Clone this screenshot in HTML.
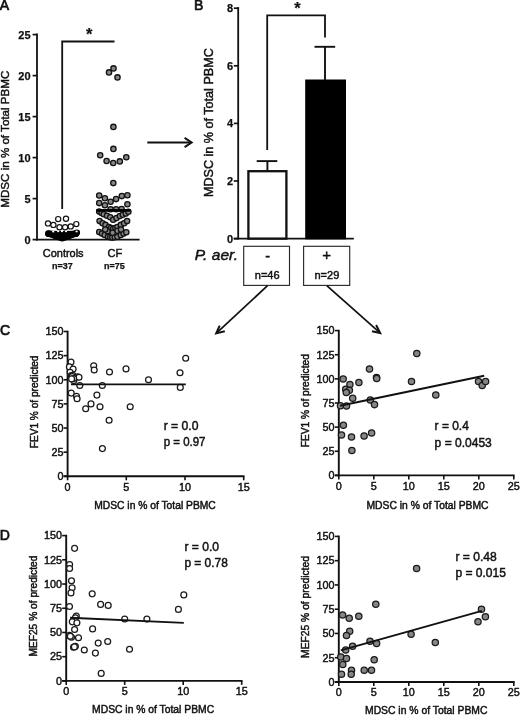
<!DOCTYPE html>
<html><head><meta charset="utf-8"><title>Figure</title>
<style>html,body{margin:0;padding:0;background:#fff;overflow:hidden}svg{display:block}text{font-family:'Liberation Sans', Arial, Helvetica, sans-serif;fill:#111}</style>
</head><body>
<svg width="520" height="715" viewBox="0 0 520 715">
<rect width="520" height="715" fill="#fff"/>
<text x="-0.3" y="10" font-size="14" text-anchor="start" font-weight="normal" font-style="normal" stroke="#111" stroke-width="0.7">A</text>
<line x1="37" y1="33.6" x2="37" y2="240.5" stroke="#111" stroke-width="1.8" stroke-linecap="butt"/>
<line x1="36.1" y1="239.6" x2="139.6" y2="239.6" stroke="#111" stroke-width="1.8" stroke-linecap="butt"/>
<line x1="32.6" y1="239.6" x2="37" y2="239.6" stroke="#111" stroke-width="1.7" stroke-linecap="butt"/>
<text x="30.6" y="243.5" font-size="11" text-anchor="end" font-weight="bold" font-style="normal" stroke="#111" stroke-width="0.25">0</text>
<line x1="32.6" y1="198.6" x2="37" y2="198.6" stroke="#111" stroke-width="1.7" stroke-linecap="butt"/>
<text x="30.6" y="202.5" font-size="11" text-anchor="end" font-weight="bold" font-style="normal" stroke="#111" stroke-width="0.25">5</text>
<line x1="32.6" y1="157.6" x2="37" y2="157.6" stroke="#111" stroke-width="1.7" stroke-linecap="butt"/>
<text x="30.6" y="161.5" font-size="11" text-anchor="end" font-weight="bold" font-style="normal" stroke="#111" stroke-width="0.25">10</text>
<line x1="32.6" y1="116.60000000000001" x2="37" y2="116.60000000000001" stroke="#111" stroke-width="1.7" stroke-linecap="butt"/>
<text x="30.6" y="120.50000000000001" font-size="11" text-anchor="end" font-weight="bold" font-style="normal" stroke="#111" stroke-width="0.25">15</text>
<line x1="32.6" y1="75.6" x2="37" y2="75.6" stroke="#111" stroke-width="1.7" stroke-linecap="butt"/>
<text x="30.6" y="79.5" font-size="11" text-anchor="end" font-weight="bold" font-style="normal" stroke="#111" stroke-width="0.25">20</text>
<line x1="32.6" y1="34.60000000000002" x2="37" y2="34.60000000000002" stroke="#111" stroke-width="1.7" stroke-linecap="butt"/>
<text x="30.6" y="38.50000000000002" font-size="11" text-anchor="end" font-weight="bold" font-style="normal" stroke="#111" stroke-width="0.25">25</text>
<text x="9.3" y="207.7" font-size="11.5" text-anchor="start" font-weight="normal" font-style="normal" stroke="#111" stroke-width="0.45" transform="rotate(-90 9.3 207.7)" textLength="137" lengthAdjust="spacingAndGlyphs">MDSC in % of Total PBMC</text>
<polyline points="62.2,209 62.2,41.5 114.5,41.5" fill="none" stroke="#111" stroke-width="1.8" stroke-linejoin="miter" stroke-linecap="butt"/>
<text x="89.2" y="40.3" font-size="16.5" text-anchor="middle" font-weight="bold" font-style="normal" stroke="#111" stroke-width="0.25">*</text>
<circle cx="58.2" cy="219.1" r="2.6" fill="#fff" stroke="#111" stroke-width="1.2"/>
<circle cx="66.0" cy="218.7" r="2.6" fill="#fff" stroke="#111" stroke-width="1.2"/>
<circle cx="48.0" cy="223.4" r="2.6" fill="#fff" stroke="#111" stroke-width="1.2"/>
<circle cx="53.4" cy="224.9" r="2.6" fill="#fff" stroke="#111" stroke-width="1.2"/>
<circle cx="59.5" cy="227.3" r="2.6" fill="#fff" stroke="#111" stroke-width="1.2"/>
<circle cx="65.1" cy="227.3" r="2.6" fill="#fff" stroke="#111" stroke-width="1.2"/>
<circle cx="70.7" cy="226.4" r="2.6" fill="#fff" stroke="#111" stroke-width="1.2"/>
<circle cx="76.3" cy="224.1" r="2.6" fill="#fff" stroke="#111" stroke-width="1.2"/>
<circle cx="48.4" cy="233.5" r="2.5" fill="#0a0a0a" stroke="#000" stroke-width="1.4"/>
<circle cx="50.7" cy="234.3" r="2.5" fill="#0a0a0a" stroke="#000" stroke-width="1.4"/>
<circle cx="53.0" cy="235.1" r="2.5" fill="#0a0a0a" stroke="#000" stroke-width="1.4"/>
<circle cx="55.3" cy="235.9" r="2.5" fill="#0a0a0a" stroke="#000" stroke-width="1.4"/>
<circle cx="57.6" cy="236.7" r="2.5" fill="#0a0a0a" stroke="#000" stroke-width="1.4"/>
<circle cx="59.9" cy="237.5" r="2.5" fill="#0a0a0a" stroke="#000" stroke-width="1.4"/>
<circle cx="62.2" cy="238.3" r="2.5" fill="#0a0a0a" stroke="#000" stroke-width="1.4"/>
<circle cx="64.5" cy="237.5" r="2.5" fill="#0a0a0a" stroke="#000" stroke-width="1.4"/>
<circle cx="66.8" cy="236.7" r="2.5" fill="#0a0a0a" stroke="#000" stroke-width="1.4"/>
<circle cx="69.1" cy="235.9" r="2.5" fill="#0a0a0a" stroke="#000" stroke-width="1.4"/>
<circle cx="71.4" cy="235.1" r="2.5" fill="#0a0a0a" stroke="#000" stroke-width="1.4"/>
<circle cx="73.7" cy="234.3" r="2.5" fill="#0a0a0a" stroke="#000" stroke-width="1.4"/>
<circle cx="76.0" cy="233.5" r="2.5" fill="#0a0a0a" stroke="#000" stroke-width="1.4"/>
<circle cx="48.4" cy="233.8" r="2.5" fill="#0a0a0a" stroke="#000" stroke-width="1.4"/>
<circle cx="50.7" cy="233.8" r="2.5" fill="#0a0a0a" stroke="#000" stroke-width="1.4"/>
<circle cx="53.0" cy="233.9" r="2.5" fill="#0a0a0a" stroke="#000" stroke-width="1.4"/>
<circle cx="55.3" cy="233.9" r="2.5" fill="#0a0a0a" stroke="#000" stroke-width="1.4"/>
<circle cx="57.6" cy="234.0" r="2.5" fill="#0a0a0a" stroke="#000" stroke-width="1.4"/>
<circle cx="59.9" cy="234.0" r="2.5" fill="#0a0a0a" stroke="#000" stroke-width="1.4"/>
<circle cx="62.2" cy="234.1" r="2.5" fill="#0a0a0a" stroke="#000" stroke-width="1.4"/>
<circle cx="64.5" cy="234.0" r="2.5" fill="#0a0a0a" stroke="#000" stroke-width="1.4"/>
<circle cx="66.8" cy="234.0" r="2.5" fill="#0a0a0a" stroke="#000" stroke-width="1.4"/>
<circle cx="69.1" cy="233.9" r="2.5" fill="#0a0a0a" stroke="#000" stroke-width="1.4"/>
<circle cx="71.4" cy="233.9" r="2.5" fill="#0a0a0a" stroke="#000" stroke-width="1.4"/>
<circle cx="73.7" cy="233.8" r="2.5" fill="#0a0a0a" stroke="#000" stroke-width="1.4"/>
<circle cx="76.0" cy="233.8" r="2.5" fill="#0a0a0a" stroke="#000" stroke-width="1.4"/>
<circle cx="76.9" cy="232.6" r="2.5" fill="#0a0a0a" stroke="#000" stroke-width="1.4"/>
<line x1="45.6" y1="234.4" x2="79" y2="234.4" stroke="#000" stroke-width="2.4" stroke-linecap="butt"/>
<ellipse cx="58.2" cy="231.3" rx="1.15" ry="0.85" fill="#fff"/>
<ellipse cx="62" cy="231.3" rx="1.15" ry="0.85" fill="#fff"/>
<ellipse cx="66" cy="231.3" rx="1.15" ry="0.85" fill="#fff"/>
<ellipse cx="76.6" cy="231.4" rx="1.15" ry="0.85" fill="#fff"/>
<ellipse cx="53.2" cy="231.6" rx="1.15" ry="0.85" fill="#fff"/>
<circle cx="109.0" cy="72.4" r="2.65" fill="#868686" stroke="#111" stroke-width="1.3"/>
<circle cx="113.5" cy="68.4" r="2.65" fill="#868686" stroke="#111" stroke-width="1.3"/>
<circle cx="117.5" cy="77.4" r="2.65" fill="#868686" stroke="#111" stroke-width="1.3"/>
<circle cx="113.4" cy="126.9" r="2.65" fill="#868686" stroke="#111" stroke-width="1.3"/>
<circle cx="113.4" cy="148.9" r="2.65" fill="#868686" stroke="#111" stroke-width="1.3"/>
<circle cx="100.2" cy="155.3" r="2.65" fill="#868686" stroke="#111" stroke-width="1.3"/>
<circle cx="106.6" cy="161.0" r="2.65" fill="#868686" stroke="#111" stroke-width="1.3"/>
<circle cx="113.2" cy="163.0" r="2.65" fill="#868686" stroke="#111" stroke-width="1.3"/>
<circle cx="119.8" cy="161.4" r="2.65" fill="#868686" stroke="#111" stroke-width="1.3"/>
<circle cx="126.3" cy="157.2" r="2.65" fill="#868686" stroke="#111" stroke-width="1.3"/>
<circle cx="113.3" cy="183.1" r="2.65" fill="#868686" stroke="#111" stroke-width="1.3"/>
<circle cx="99.2" cy="195.5" r="2.65" fill="#868686" stroke="#111" stroke-width="1.3"/>
<circle cx="104.9" cy="198.2" r="2.65" fill="#868686" stroke="#111" stroke-width="1.3"/>
<circle cx="110.6" cy="201.8" r="2.65" fill="#868686" stroke="#111" stroke-width="1.3"/>
<circle cx="116.1" cy="199.1" r="2.65" fill="#868686" stroke="#111" stroke-width="1.3"/>
<circle cx="121.8" cy="196.1" r="2.65" fill="#868686" stroke="#111" stroke-width="1.3"/>
<circle cx="127.4" cy="195.3" r="2.65" fill="#868686" stroke="#111" stroke-width="1.3"/>
<circle cx="99.2" cy="203.1" r="2.65" fill="#868686" stroke="#111" stroke-width="1.3"/>
<circle cx="104.9" cy="205.2" r="2.65" fill="#868686" stroke="#111" stroke-width="1.3"/>
<circle cx="127.4" cy="204.2" r="2.65" fill="#868686" stroke="#111" stroke-width="1.3"/>
<circle cx="110.6" cy="209.2" r="2.65" fill="#868686" stroke="#111" stroke-width="1.3"/>
<circle cx="116.1" cy="209.2" r="2.65" fill="#868686" stroke="#111" stroke-width="1.3"/>
<circle cx="121.6" cy="209.1" r="2.65" fill="#868686" stroke="#111" stroke-width="1.3"/>
<circle cx="99.2" cy="211.6" r="2.65" fill="#868686" stroke="#111" stroke-width="1.3"/>
<circle cx="101.6" cy="213.0" r="2.65" fill="#868686" stroke="#111" stroke-width="1.3"/>
<circle cx="103.8" cy="214.3" r="2.65" fill="#868686" stroke="#111" stroke-width="1.3"/>
<circle cx="107.0" cy="215.8" r="2.65" fill="#868686" stroke="#111" stroke-width="1.3"/>
<circle cx="110.2" cy="217.3" r="2.65" fill="#868686" stroke="#111" stroke-width="1.3"/>
<circle cx="113.2" cy="219.8" r="2.65" fill="#868686" stroke="#111" stroke-width="1.3"/>
<circle cx="116.5" cy="218.1" r="2.65" fill="#868686" stroke="#111" stroke-width="1.3"/>
<circle cx="119.9" cy="216.0" r="2.65" fill="#868686" stroke="#111" stroke-width="1.3"/>
<circle cx="122.8" cy="214.8" r="2.65" fill="#868686" stroke="#111" stroke-width="1.3"/>
<circle cx="125.8" cy="213.6" r="2.65" fill="#868686" stroke="#111" stroke-width="1.3"/>
<circle cx="128.4" cy="211.8" r="2.65" fill="#868686" stroke="#111" stroke-width="1.3"/>
<circle cx="99.6" cy="221.1" r="2.65" fill="#868686" stroke="#111" stroke-width="1.3"/>
<circle cx="102.6" cy="223.2" r="2.65" fill="#868686" stroke="#111" stroke-width="1.3"/>
<circle cx="105.5" cy="224.9" r="2.65" fill="#868686" stroke="#111" stroke-width="1.3"/>
<circle cx="108.9" cy="227.0" r="2.65" fill="#868686" stroke="#111" stroke-width="1.3"/>
<circle cx="111.0" cy="228.0" r="2.65" fill="#868686" stroke="#111" stroke-width="1.3"/>
<circle cx="113.2" cy="228.7" r="2.65" fill="#868686" stroke="#111" stroke-width="1.3"/>
<circle cx="115.4" cy="228.0" r="2.65" fill="#868686" stroke="#111" stroke-width="1.3"/>
<circle cx="117.4" cy="227.0" r="2.65" fill="#868686" stroke="#111" stroke-width="1.3"/>
<circle cx="120.8" cy="224.9" r="2.65" fill="#868686" stroke="#111" stroke-width="1.3"/>
<circle cx="124.1" cy="223.2" r="2.65" fill="#868686" stroke="#111" stroke-width="1.3"/>
<circle cx="127.1" cy="221.1" r="2.65" fill="#868686" stroke="#111" stroke-width="1.3"/>
<circle cx="99.2" cy="232.1" r="2.65" fill="#868686" stroke="#111" stroke-width="1.3"/>
<circle cx="102.0" cy="233.6" r="2.65" fill="#868686" stroke="#111" stroke-width="1.3"/>
<circle cx="104.7" cy="235.0" r="2.65" fill="#868686" stroke="#111" stroke-width="1.3"/>
<circle cx="107.7" cy="231.2" r="2.65" fill="#868686" stroke="#111" stroke-width="1.3"/>
<circle cx="108.0" cy="236.7" r="2.65" fill="#868686" stroke="#111" stroke-width="1.3"/>
<circle cx="110.2" cy="237.3" r="2.65" fill="#868686" stroke="#111" stroke-width="1.3"/>
<circle cx="112.3" cy="237.6" r="2.65" fill="#868686" stroke="#111" stroke-width="1.3"/>
<circle cx="114.8" cy="237.3" r="2.65" fill="#868686" stroke="#111" stroke-width="1.3"/>
<circle cx="117.4" cy="236.7" r="2.65" fill="#868686" stroke="#111" stroke-width="1.3"/>
<circle cx="117.4" cy="230.8" r="2.65" fill="#868686" stroke="#111" stroke-width="1.3"/>
<circle cx="120.8" cy="235.0" r="2.65" fill="#868686" stroke="#111" stroke-width="1.3"/>
<circle cx="123.6" cy="233.6" r="2.65" fill="#868686" stroke="#111" stroke-width="1.3"/>
<circle cx="126.3" cy="232.3" r="2.65" fill="#868686" stroke="#111" stroke-width="1.3"/>
<circle cx="112.6" cy="232.8" r="2.65" fill="#868686" stroke="#111" stroke-width="1.3"/>
<circle cx="105.2" cy="229.6" r="2.65" fill="#868686" stroke="#111" stroke-width="1.3"/>
<circle cx="121.0" cy="229.6" r="2.65" fill="#868686" stroke="#111" stroke-width="1.3"/>
<line x1="96.4" y1="210.4" x2="130.2" y2="210.4" stroke="#000" stroke-width="2.6" stroke-linecap="butt"/>
<text x="63.2" y="257.2" font-size="11" text-anchor="middle" font-weight="normal" font-style="normal" stroke="#111" stroke-width="0.45" textLength="40.8" lengthAdjust="spacingAndGlyphs">Controls</text>
<text x="114.8" y="257.2" font-size="11" text-anchor="middle" font-weight="normal" font-style="normal" stroke="#111" stroke-width="0.45">CF</text>
<text x="62.5" y="269.3" font-size="9" text-anchor="middle" font-weight="bold" font-style="normal" stroke="#111" stroke-width="0.25">n=37</text>
<text x="114.5" y="269.3" font-size="9" text-anchor="middle" font-weight="bold" font-style="normal" stroke="#111" stroke-width="0.25">n=75</text>
<line x1="147.3" y1="142.5" x2="190.6" y2="142.5" stroke="#111" stroke-width="1.9" stroke-linecap="butt"/>
<polyline points="184.6,137.9 191.6,142.5 184.6,147.1" fill="none" stroke="#111" stroke-width="2.0" stroke-linejoin="miter" stroke-linecap="butt"/>
<text x="194" y="10" font-size="14" text-anchor="start" font-weight="normal" font-style="normal" stroke="#111" stroke-width="0.7">B</text>
<line x1="238.2" y1="7.1" x2="238.2" y2="239.5" stroke="#111" stroke-width="1.8" stroke-linecap="butt"/>
<line x1="233.7" y1="238.6" x2="353.8" y2="238.6" stroke="#111" stroke-width="1.8" stroke-linecap="butt"/>
<line x1="233.79999999999998" y1="238.6" x2="238.2" y2="238.6" stroke="#111" stroke-width="1.7" stroke-linecap="butt"/>
<text x="233.2" y="242.5" font-size="11" text-anchor="end" font-weight="bold" font-style="normal" stroke="#111" stroke-width="0.25">0</text>
<line x1="233.79999999999998" y1="181.0" x2="238.2" y2="181.0" stroke="#111" stroke-width="1.7" stroke-linecap="butt"/>
<text x="233.2" y="184.9" font-size="11" text-anchor="end" font-weight="bold" font-style="normal" stroke="#111" stroke-width="0.25">2</text>
<line x1="233.79999999999998" y1="123.39999999999999" x2="238.2" y2="123.39999999999999" stroke="#111" stroke-width="1.7" stroke-linecap="butt"/>
<text x="233.2" y="127.3" font-size="11" text-anchor="end" font-weight="bold" font-style="normal" stroke="#111" stroke-width="0.25">4</text>
<line x1="233.79999999999998" y1="65.79999999999998" x2="238.2" y2="65.79999999999998" stroke="#111" stroke-width="1.7" stroke-linecap="butt"/>
<text x="233.2" y="69.69999999999999" font-size="11" text-anchor="end" font-weight="bold" font-style="normal" stroke="#111" stroke-width="0.25">6</text>
<line x1="233.79999999999998" y1="8.199999999999989" x2="238.2" y2="8.199999999999989" stroke="#111" stroke-width="1.7" stroke-linecap="butt"/>
<text x="233.2" y="12.099999999999989" font-size="11" text-anchor="end" font-weight="bold" font-style="normal" stroke="#111" stroke-width="0.25">8</text>
<text x="213.4" y="197" font-size="12.4" text-anchor="start" font-weight="normal" font-style="normal" stroke="#111" stroke-width="0.45" transform="rotate(-90 213.4 197)" textLength="148.8" lengthAdjust="spacingAndGlyphs">MDSC in % of Total PBMC</text>
<rect x="248.4" y="171.2" width="38" height="67.4" fill="#fff" stroke="#111" stroke-width="2.3"/>
<line x1="267.4" y1="161" x2="267.4" y2="171" stroke="#111" stroke-width="1.9" stroke-linecap="butt"/>
<line x1="256.7" y1="161.1" x2="277.3" y2="161.1" stroke="#111" stroke-width="1.9" stroke-linecap="butt"/>
<rect x="305.2" y="79.5" width="40.8" height="159.8" fill="#000"/>
<line x1="325" y1="46.8" x2="325" y2="80" stroke="#111" stroke-width="1.9" stroke-linecap="butt"/>
<line x1="314.5" y1="46.8" x2="335.2" y2="46.8" stroke="#111" stroke-width="1.9" stroke-linecap="butt"/>
<polyline points="267.2,150 267.2,15.4 325,15.4 325,37.5" fill="none" stroke="#111" stroke-width="1.8" stroke-linejoin="miter" stroke-linecap="butt"/>
<text x="297.5" y="13.6" font-size="16.5" text-anchor="middle" font-weight="bold" font-style="normal" stroke="#111" stroke-width="0.25">*</text>
<rect x="243.7" y="246.3" width="45.8" height="39.1" fill="#fff" stroke="#2a2a2a" stroke-width="1.15"/>
<rect x="303.6" y="246.3" width="46.1" height="39.1" fill="#fff" stroke="#2a2a2a" stroke-width="1.15"/>
<text x="194.7" y="260.2" font-size="14.3" text-anchor="start" font-weight="normal" font-style="italic" stroke="#111" stroke-width="0.45" textLength="43.3" lengthAdjust="spacingAndGlyphs">P. aer.</text>
<text x="267.6" y="260.6" font-size="14.5" text-anchor="middle" font-weight="normal" font-style="normal" stroke="#111" stroke-width="0.45">-</text>
<text x="326.7" y="259.9" font-size="15" text-anchor="middle" font-weight="normal" font-style="normal" stroke="#111" stroke-width="0.45">+</text>
<text x="267.2" y="278.9" font-size="11" text-anchor="middle" font-weight="normal" font-style="normal" stroke="#111" stroke-width="0.45">n=46</text>
<text x="326.9" y="278.9" font-size="11" text-anchor="middle" font-weight="normal" font-style="normal" stroke="#111" stroke-width="0.45">n=29</text>
<line x1="267.5" y1="285.7" x2="217" y2="332.7" stroke="#111" stroke-width="1.75" stroke-linecap="butt"/>
<polyline points="219.7,325.6 216.2,333.4 224.8,331.3" fill="none" stroke="#111" stroke-width="2.0" stroke-linejoin="miter" stroke-linecap="butt"/>
<line x1="326.8" y1="285.7" x2="379.5" y2="332.4" stroke="#111" stroke-width="1.75" stroke-linecap="butt"/>
<polyline points="372,331.3 380.2,333.1 376.1,325" fill="none" stroke="#111" stroke-width="2.0" stroke-linejoin="miter" stroke-linecap="butt"/>
<text x="0" y="334.7" font-size="14" text-anchor="start" font-weight="normal" font-style="normal" stroke="#111" stroke-width="0.7">C</text>
<line x1="67.6" y1="330.7" x2="67.6" y2="477.25" stroke="#111" stroke-width="1.9" stroke-linecap="butt"/>
<line x1="63.599999999999994" y1="476.3" x2="244.5" y2="476.3" stroke="#111" stroke-width="1.9" stroke-linecap="butt"/>
<line x1="63.599999999999994" y1="476.3" x2="67.6" y2="476.3" stroke="#111" stroke-width="1.6" stroke-linecap="butt"/>
<text x="63.39999999999999" y="480.1" font-size="10.8" text-anchor="end" font-weight="normal" font-style="normal" stroke="#111" stroke-width="0.45">0</text>
<line x1="63.599999999999994" y1="452.1666666666667" x2="67.6" y2="452.1666666666667" stroke="#111" stroke-width="1.6" stroke-linecap="butt"/>
<text x="63.39999999999999" y="455.9666666666667" font-size="10.8" text-anchor="end" font-weight="normal" font-style="normal" stroke="#111" stroke-width="0.45">25</text>
<line x1="63.599999999999994" y1="428.03333333333336" x2="67.6" y2="428.03333333333336" stroke="#111" stroke-width="1.6" stroke-linecap="butt"/>
<text x="63.39999999999999" y="431.83333333333337" font-size="10.8" text-anchor="end" font-weight="normal" font-style="normal" stroke="#111" stroke-width="0.45">50</text>
<line x1="63.599999999999994" y1="403.9" x2="67.6" y2="403.9" stroke="#111" stroke-width="1.6" stroke-linecap="butt"/>
<text x="63.39999999999999" y="407.7" font-size="10.8" text-anchor="end" font-weight="normal" font-style="normal" stroke="#111" stroke-width="0.45">75</text>
<line x1="63.599999999999994" y1="379.76666666666665" x2="67.6" y2="379.76666666666665" stroke="#111" stroke-width="1.6" stroke-linecap="butt"/>
<text x="63.39999999999999" y="383.56666666666666" font-size="10.8" text-anchor="end" font-weight="normal" font-style="normal" stroke="#111" stroke-width="0.45">100</text>
<line x1="63.599999999999994" y1="355.6333333333333" x2="67.6" y2="355.6333333333333" stroke="#111" stroke-width="1.6" stroke-linecap="butt"/>
<text x="63.39999999999999" y="359.43333333333334" font-size="10.8" text-anchor="end" font-weight="normal" font-style="normal" stroke="#111" stroke-width="0.45">125</text>
<line x1="63.599999999999994" y1="331.5" x2="67.6" y2="331.5" stroke="#111" stroke-width="1.6" stroke-linecap="butt"/>
<text x="63.39999999999999" y="335.3" font-size="10.8" text-anchor="end" font-weight="normal" font-style="normal" stroke="#111" stroke-width="0.45">150</text>
<line x1="67.6" y1="476.3" x2="67.6" y2="480.3" stroke="#111" stroke-width="1.6" stroke-linecap="butt"/>
<text x="67.6" y="490.5" font-size="10.8" text-anchor="middle" font-weight="normal" font-style="normal" stroke="#111" stroke-width="0.45">0</text>
<line x1="126.3" y1="476.3" x2="126.3" y2="480.3" stroke="#111" stroke-width="1.6" stroke-linecap="butt"/>
<text x="126.3" y="490.5" font-size="10.8" text-anchor="middle" font-weight="normal" font-style="normal" stroke="#111" stroke-width="0.45">5</text>
<line x1="185.0" y1="476.3" x2="185.0" y2="480.3" stroke="#111" stroke-width="1.6" stroke-linecap="butt"/>
<text x="185.0" y="490.5" font-size="10.8" text-anchor="middle" font-weight="normal" font-style="normal" stroke="#111" stroke-width="0.45">10</text>
<line x1="243.7" y1="476.3" x2="243.7" y2="480.3" stroke="#111" stroke-width="1.6" stroke-linecap="butt"/>
<text x="243.7" y="490.5" font-size="10.8" text-anchor="middle" font-weight="normal" font-style="normal" stroke="#111" stroke-width="0.45">15</text>
<text x="38.2" y="448.2" font-size="10" text-anchor="start" font-weight="normal" font-style="normal" stroke="#111" stroke-width="0.45" transform="rotate(-90 38.2 448.2)" textLength="92.7" lengthAdjust="spacingAndGlyphs">FEV1 % of predicted</text>
<text x="94.2" y="508.6" font-size="10" text-anchor="start" font-weight="normal" font-style="normal" stroke="#111" stroke-width="0.45" textLength="121.6" lengthAdjust="spacingAndGlyphs">MDSC in % of Total PBMC</text>
<circle cx="71.0" cy="362.1" r="2.95" fill="#fff" stroke="#1a1a1a" stroke-width="1.25"/>
<circle cx="69.4" cy="366.9" r="2.95" fill="#fff" stroke="#1a1a1a" stroke-width="1.25"/>
<circle cx="73.1" cy="369.1" r="2.95" fill="#fff" stroke="#1a1a1a" stroke-width="1.25"/>
<circle cx="70.1" cy="372.3" r="2.95" fill="#fff" stroke="#1a1a1a" stroke-width="1.25"/>
<circle cx="71.2" cy="375.6" r="2.95" fill="#fff" stroke="#1a1a1a" stroke-width="1.25"/>
<circle cx="72.8" cy="375.3" r="2.95" fill="#fff" stroke="#1a1a1a" stroke-width="1.25"/>
<circle cx="73.1" cy="377.5" r="2.95" fill="#fff" stroke="#1a1a1a" stroke-width="1.25"/>
<circle cx="77.5" cy="376.9" r="2.95" fill="#fff" stroke="#1a1a1a" stroke-width="1.25"/>
<circle cx="79.0" cy="377.2" r="2.95" fill="#fff" stroke="#1a1a1a" stroke-width="1.25"/>
<circle cx="73.8" cy="380.6" r="2.95" fill="#fff" stroke="#1a1a1a" stroke-width="1.25"/>
<circle cx="72.2" cy="376.6" r="2.95" fill="#fff" stroke="#1a1a1a" stroke-width="1.25"/>
<circle cx="73.6" cy="378.6" r="2.95" fill="#fff" stroke="#1a1a1a" stroke-width="1.25"/>
<circle cx="71.6" cy="378.9" r="2.95" fill="#fff" stroke="#1a1a1a" stroke-width="1.25"/>
<circle cx="79.8" cy="385.5" r="2.95" fill="#fff" stroke="#1a1a1a" stroke-width="1.25"/>
<circle cx="102.3" cy="385.5" r="2.95" fill="#fff" stroke="#1a1a1a" stroke-width="1.25"/>
<circle cx="93.7" cy="365.7" r="2.95" fill="#fff" stroke="#1a1a1a" stroke-width="1.25"/>
<circle cx="94.2" cy="370.0" r="2.95" fill="#fff" stroke="#1a1a1a" stroke-width="1.25"/>
<circle cx="109.5" cy="372.0" r="2.95" fill="#fff" stroke="#1a1a1a" stroke-width="1.25"/>
<circle cx="126.0" cy="368.9" r="2.95" fill="#fff" stroke="#1a1a1a" stroke-width="1.25"/>
<circle cx="71.2" cy="393.1" r="2.95" fill="#fff" stroke="#1a1a1a" stroke-width="1.25"/>
<circle cx="76.5" cy="396.2" r="2.95" fill="#fff" stroke="#1a1a1a" stroke-width="1.25"/>
<circle cx="77.1" cy="398.8" r="2.95" fill="#fff" stroke="#1a1a1a" stroke-width="1.25"/>
<circle cx="96.9" cy="395.1" r="2.95" fill="#fff" stroke="#1a1a1a" stroke-width="1.25"/>
<circle cx="91.0" cy="403.9" r="2.95" fill="#fff" stroke="#1a1a1a" stroke-width="1.25"/>
<circle cx="85.7" cy="408.8" r="2.95" fill="#fff" stroke="#1a1a1a" stroke-width="1.25"/>
<circle cx="100.0" cy="406.7" r="2.95" fill="#fff" stroke="#1a1a1a" stroke-width="1.25"/>
<circle cx="130.2" cy="406.8" r="2.95" fill="#fff" stroke="#1a1a1a" stroke-width="1.25"/>
<circle cx="109.1" cy="420.2" r="2.95" fill="#fff" stroke="#1a1a1a" stroke-width="1.25"/>
<circle cx="102.4" cy="448.6" r="2.95" fill="#fff" stroke="#1a1a1a" stroke-width="1.25"/>
<circle cx="148.5" cy="379.7" r="2.95" fill="#fff" stroke="#1a1a1a" stroke-width="1.25"/>
<circle cx="185.7" cy="358.2" r="2.95" fill="#fff" stroke="#1a1a1a" stroke-width="1.25"/>
<circle cx="180.0" cy="372.8" r="2.95" fill="#fff" stroke="#1a1a1a" stroke-width="1.25"/>
<circle cx="180.3" cy="387.4" r="2.95" fill="#fff" stroke="#1a1a1a" stroke-width="1.25"/>
<line x1="71" y1="384.4" x2="185.8" y2="384.4" stroke="#111" stroke-width="1.9" stroke-linecap="butt"/>
<text x="163.7" y="430.2" font-size="12" text-anchor="start" font-weight="normal" font-style="normal" stroke="#111" stroke-width="0.45" textLength="34.8" lengthAdjust="spacingAndGlyphs">r = 0.0</text>
<text x="163.7" y="446.2" font-size="12" text-anchor="start" font-weight="normal" font-style="normal" stroke="#111" stroke-width="0.45" textLength="41.8" lengthAdjust="spacingAndGlyphs">p = 0.97</text>
<line x1="338.8" y1="329.8" x2="338.8" y2="476.34999999999997" stroke="#111" stroke-width="1.9" stroke-linecap="butt"/>
<line x1="334.8" y1="475.4" x2="514.5999999999999" y2="475.4" stroke="#111" stroke-width="1.9" stroke-linecap="butt"/>
<line x1="334.8" y1="475.4" x2="338.8" y2="475.4" stroke="#111" stroke-width="1.6" stroke-linecap="butt"/>
<text x="334.6" y="479.2" font-size="10.8" text-anchor="end" font-weight="normal" font-style="normal" stroke="#111" stroke-width="0.45">0</text>
<line x1="334.8" y1="451.26666666666665" x2="338.8" y2="451.26666666666665" stroke="#111" stroke-width="1.6" stroke-linecap="butt"/>
<text x="334.6" y="455.06666666666666" font-size="10.8" text-anchor="end" font-weight="normal" font-style="normal" stroke="#111" stroke-width="0.45">25</text>
<line x1="334.8" y1="427.1333333333333" x2="338.8" y2="427.1333333333333" stroke="#111" stroke-width="1.6" stroke-linecap="butt"/>
<text x="334.6" y="430.93333333333334" font-size="10.8" text-anchor="end" font-weight="normal" font-style="normal" stroke="#111" stroke-width="0.45">50</text>
<line x1="334.8" y1="403.0" x2="338.8" y2="403.0" stroke="#111" stroke-width="1.6" stroke-linecap="butt"/>
<text x="334.6" y="406.8" font-size="10.8" text-anchor="end" font-weight="normal" font-style="normal" stroke="#111" stroke-width="0.45">75</text>
<line x1="334.8" y1="378.8666666666667" x2="338.8" y2="378.8666666666667" stroke="#111" stroke-width="1.6" stroke-linecap="butt"/>
<text x="334.6" y="382.6666666666667" font-size="10.8" text-anchor="end" font-weight="normal" font-style="normal" stroke="#111" stroke-width="0.45">100</text>
<line x1="334.8" y1="354.73333333333335" x2="338.8" y2="354.73333333333335" stroke="#111" stroke-width="1.6" stroke-linecap="butt"/>
<text x="334.6" y="358.53333333333336" font-size="10.8" text-anchor="end" font-weight="normal" font-style="normal" stroke="#111" stroke-width="0.45">125</text>
<line x1="334.8" y1="330.6" x2="338.8" y2="330.6" stroke="#111" stroke-width="1.6" stroke-linecap="butt"/>
<text x="334.6" y="334.40000000000003" font-size="10.8" text-anchor="end" font-weight="normal" font-style="normal" stroke="#111" stroke-width="0.45">150</text>
<line x1="338.8" y1="475.4" x2="338.8" y2="479.4" stroke="#111" stroke-width="1.6" stroke-linecap="butt"/>
<text x="338.8" y="489.59999999999997" font-size="10.8" text-anchor="middle" font-weight="normal" font-style="normal" stroke="#111" stroke-width="0.45">0</text>
<line x1="373.8" y1="475.4" x2="373.8" y2="479.4" stroke="#111" stroke-width="1.6" stroke-linecap="butt"/>
<text x="373.8" y="489.59999999999997" font-size="10.8" text-anchor="middle" font-weight="normal" font-style="normal" stroke="#111" stroke-width="0.45">5</text>
<line x1="408.8" y1="475.4" x2="408.8" y2="479.4" stroke="#111" stroke-width="1.6" stroke-linecap="butt"/>
<text x="408.8" y="489.59999999999997" font-size="10.8" text-anchor="middle" font-weight="normal" font-style="normal" stroke="#111" stroke-width="0.45">10</text>
<line x1="443.8" y1="475.4" x2="443.8" y2="479.4" stroke="#111" stroke-width="1.6" stroke-linecap="butt"/>
<text x="443.8" y="489.59999999999997" font-size="10.8" text-anchor="middle" font-weight="normal" font-style="normal" stroke="#111" stroke-width="0.45">15</text>
<line x1="478.8" y1="475.4" x2="478.8" y2="479.4" stroke="#111" stroke-width="1.6" stroke-linecap="butt"/>
<text x="478.8" y="489.59999999999997" font-size="10.8" text-anchor="middle" font-weight="normal" font-style="normal" stroke="#111" stroke-width="0.45">20</text>
<line x1="513.8" y1="475.4" x2="513.8" y2="479.4" stroke="#111" stroke-width="1.6" stroke-linecap="butt"/>
<text x="513.8" y="489.59999999999997" font-size="10.8" text-anchor="middle" font-weight="normal" font-style="normal" stroke="#111" stroke-width="0.45">25</text>
<text x="309.1" y="447.3" font-size="10" text-anchor="start" font-weight="normal" font-style="normal" stroke="#111" stroke-width="0.45" transform="rotate(-90 309.1 447.3)" textLength="93.1" lengthAdjust="spacingAndGlyphs">FEV1 % of predicted</text>
<text x="366.5" y="508.6" font-size="10" text-anchor="start" font-weight="normal" font-style="normal" stroke="#111" stroke-width="0.45" textLength="122" lengthAdjust="spacingAndGlyphs">MDSC in % of Total PBMC</text>
<circle cx="343.2" cy="378.9" r="3.15" fill="#868686" stroke="#1a1a1a" stroke-width="1.25"/>
<circle cx="369.5" cy="369.0" r="3.15" fill="#868686" stroke="#1a1a1a" stroke-width="1.25"/>
<circle cx="376.5" cy="377.4" r="3.15" fill="#868686" stroke="#1a1a1a" stroke-width="1.25"/>
<circle cx="376.7" cy="378.4" r="3.15" fill="#868686" stroke="#1a1a1a" stroke-width="1.25"/>
<circle cx="358.9" cy="382.4" r="3.15" fill="#868686" stroke="#1a1a1a" stroke-width="1.25"/>
<circle cx="349.9" cy="384.5" r="3.15" fill="#868686" stroke="#1a1a1a" stroke-width="1.25"/>
<circle cx="345.7" cy="389.2" r="3.15" fill="#868686" stroke="#1a1a1a" stroke-width="1.25"/>
<circle cx="349.4" cy="390.3" r="3.15" fill="#868686" stroke="#1a1a1a" stroke-width="1.25"/>
<circle cx="346.3" cy="392.5" r="3.15" fill="#868686" stroke="#1a1a1a" stroke-width="1.25"/>
<circle cx="352.7" cy="398.2" r="3.15" fill="#868686" stroke="#1a1a1a" stroke-width="1.25"/>
<circle cx="370.3" cy="399.9" r="3.15" fill="#868686" stroke="#1a1a1a" stroke-width="1.25"/>
<circle cx="374.5" cy="404.6" r="3.15" fill="#868686" stroke="#1a1a1a" stroke-width="1.25"/>
<circle cx="340.5" cy="405.8" r="3.15" fill="#868686" stroke="#1a1a1a" stroke-width="1.25"/>
<circle cx="346.5" cy="405.9" r="3.15" fill="#868686" stroke="#1a1a1a" stroke-width="1.25"/>
<circle cx="343.4" cy="425.2" r="3.15" fill="#868686" stroke="#1a1a1a" stroke-width="1.25"/>
<circle cx="341.5" cy="435.0" r="3.15" fill="#868686" stroke="#1a1a1a" stroke-width="1.25"/>
<circle cx="351.5" cy="436.9" r="3.15" fill="#868686" stroke="#1a1a1a" stroke-width="1.25"/>
<circle cx="364.1" cy="436.0" r="3.15" fill="#868686" stroke="#1a1a1a" stroke-width="1.25"/>
<circle cx="371.6" cy="432.9" r="3.15" fill="#868686" stroke="#1a1a1a" stroke-width="1.25"/>
<circle cx="351.9" cy="450.5" r="3.15" fill="#868686" stroke="#1a1a1a" stroke-width="1.25"/>
<circle cx="416.8" cy="353.4" r="3.15" fill="#868686" stroke="#1a1a1a" stroke-width="1.25"/>
<circle cx="411.5" cy="381.5" r="3.15" fill="#868686" stroke="#1a1a1a" stroke-width="1.25"/>
<circle cx="435.8" cy="394.9" r="3.15" fill="#868686" stroke="#1a1a1a" stroke-width="1.25"/>
<circle cx="478.5" cy="381.5" r="3.15" fill="#868686" stroke="#1a1a1a" stroke-width="1.25"/>
<circle cx="482.2" cy="385.5" r="3.15" fill="#868686" stroke="#1a1a1a" stroke-width="1.25"/>
<circle cx="485.6" cy="381.5" r="3.15" fill="#868686" stroke="#1a1a1a" stroke-width="1.25"/>
<line x1="340.1" y1="405.8" x2="484.2" y2="375.8" stroke="#111" stroke-width="1.9" stroke-linecap="butt"/>
<text x="434.6" y="429.5" font-size="12" text-anchor="start" font-weight="normal" font-style="normal" stroke="#111" stroke-width="0.45" textLength="34.2" lengthAdjust="spacingAndGlyphs">r = 0.4</text>
<text x="434.6" y="446.9" font-size="12" text-anchor="start" font-weight="normal" font-style="normal" stroke="#111" stroke-width="0.45" textLength="57.2" lengthAdjust="spacingAndGlyphs">p = 0.0453</text>
<text x="-0.3" y="539.5" font-size="14" text-anchor="start" font-weight="normal" font-style="normal" stroke="#111" stroke-width="0.7">D</text>
<line x1="66.2" y1="534.8000000000001" x2="66.2" y2="681.85" stroke="#111" stroke-width="1.9" stroke-linecap="butt"/>
<line x1="62.2" y1="680.9" x2="242.5" y2="680.9" stroke="#111" stroke-width="1.9" stroke-linecap="butt"/>
<line x1="62.2" y1="680.9" x2="66.2" y2="680.9" stroke="#111" stroke-width="1.6" stroke-linecap="butt"/>
<text x="62.0" y="684.6999999999999" font-size="10.8" text-anchor="end" font-weight="normal" font-style="normal" stroke="#111" stroke-width="0.45">0</text>
<line x1="62.2" y1="656.6833333333333" x2="66.2" y2="656.6833333333333" stroke="#111" stroke-width="1.6" stroke-linecap="butt"/>
<text x="62.0" y="660.4833333333332" font-size="10.8" text-anchor="end" font-weight="normal" font-style="normal" stroke="#111" stroke-width="0.45">25</text>
<line x1="62.2" y1="632.4666666666667" x2="66.2" y2="632.4666666666667" stroke="#111" stroke-width="1.6" stroke-linecap="butt"/>
<text x="62.0" y="636.2666666666667" font-size="10.8" text-anchor="end" font-weight="normal" font-style="normal" stroke="#111" stroke-width="0.45">50</text>
<line x1="62.2" y1="608.25" x2="66.2" y2="608.25" stroke="#111" stroke-width="1.6" stroke-linecap="butt"/>
<text x="62.0" y="612.05" font-size="10.8" text-anchor="end" font-weight="normal" font-style="normal" stroke="#111" stroke-width="0.45">75</text>
<line x1="62.2" y1="584.0333333333333" x2="66.2" y2="584.0333333333333" stroke="#111" stroke-width="1.6" stroke-linecap="butt"/>
<text x="62.0" y="587.8333333333333" font-size="10.8" text-anchor="end" font-weight="normal" font-style="normal" stroke="#111" stroke-width="0.45">100</text>
<line x1="62.2" y1="559.8166666666667" x2="66.2" y2="559.8166666666667" stroke="#111" stroke-width="1.6" stroke-linecap="butt"/>
<text x="62.0" y="563.6166666666667" font-size="10.8" text-anchor="end" font-weight="normal" font-style="normal" stroke="#111" stroke-width="0.45">125</text>
<line x1="62.2" y1="535.6" x2="66.2" y2="535.6" stroke="#111" stroke-width="1.6" stroke-linecap="butt"/>
<text x="62.0" y="539.4" font-size="10.8" text-anchor="end" font-weight="normal" font-style="normal" stroke="#111" stroke-width="0.45">150</text>
<line x1="66.2" y1="680.9" x2="66.2" y2="684.9" stroke="#111" stroke-width="1.6" stroke-linecap="butt"/>
<text x="66.2" y="695.1" font-size="10.8" text-anchor="middle" font-weight="normal" font-style="normal" stroke="#111" stroke-width="0.45">0</text>
<line x1="124.7" y1="680.9" x2="124.7" y2="684.9" stroke="#111" stroke-width="1.6" stroke-linecap="butt"/>
<text x="124.7" y="695.1" font-size="10.8" text-anchor="middle" font-weight="normal" font-style="normal" stroke="#111" stroke-width="0.45">5</text>
<line x1="183.2" y1="680.9" x2="183.2" y2="684.9" stroke="#111" stroke-width="1.6" stroke-linecap="butt"/>
<text x="183.2" y="695.1" font-size="10.8" text-anchor="middle" font-weight="normal" font-style="normal" stroke="#111" stroke-width="0.45">10</text>
<line x1="241.7" y1="680.9" x2="241.7" y2="684.9" stroke="#111" stroke-width="1.6" stroke-linecap="butt"/>
<text x="241.7" y="695.1" font-size="10.8" text-anchor="middle" font-weight="normal" font-style="normal" stroke="#111" stroke-width="0.45">15</text>
<text x="36.8" y="656.6" font-size="10" text-anchor="start" font-weight="normal" font-style="normal" stroke="#111" stroke-width="0.45" transform="rotate(-90 36.8 656.6)" textLength="101" lengthAdjust="spacingAndGlyphs">MEF25 % of predicted</text>
<text x="92.1" y="713" font-size="10" text-anchor="start" font-weight="normal" font-style="normal" stroke="#111" stroke-width="0.45" textLength="122" lengthAdjust="spacingAndGlyphs">MDSC in % of Total PBMC</text>
<circle cx="74.6" cy="548.3" r="2.95" fill="#fff" stroke="#1a1a1a" stroke-width="1.25"/>
<circle cx="69.6" cy="564.6" r="2.95" fill="#fff" stroke="#1a1a1a" stroke-width="1.25"/>
<circle cx="69.6" cy="568.5" r="2.95" fill="#fff" stroke="#1a1a1a" stroke-width="1.25"/>
<circle cx="71.5" cy="580.7" r="2.95" fill="#fff" stroke="#1a1a1a" stroke-width="1.25"/>
<circle cx="72.1" cy="587.8" r="2.95" fill="#fff" stroke="#1a1a1a" stroke-width="1.25"/>
<circle cx="71.0" cy="592.9" r="2.95" fill="#fff" stroke="#1a1a1a" stroke-width="1.25"/>
<circle cx="92.2" cy="593.8" r="2.95" fill="#fff" stroke="#1a1a1a" stroke-width="1.25"/>
<circle cx="69.5" cy="606.5" r="2.95" fill="#fff" stroke="#1a1a1a" stroke-width="1.25"/>
<circle cx="100.6" cy="604.4" r="2.95" fill="#fff" stroke="#1a1a1a" stroke-width="1.25"/>
<circle cx="108.2" cy="605.4" r="2.95" fill="#fff" stroke="#1a1a1a" stroke-width="1.25"/>
<circle cx="76.3" cy="616.0" r="2.95" fill="#fff" stroke="#1a1a1a" stroke-width="1.25"/>
<circle cx="75.4" cy="617.7" r="2.95" fill="#fff" stroke="#1a1a1a" stroke-width="1.25"/>
<circle cx="72.3" cy="621.8" r="2.95" fill="#fff" stroke="#1a1a1a" stroke-width="1.25"/>
<circle cx="76.9" cy="622.8" r="2.95" fill="#fff" stroke="#1a1a1a" stroke-width="1.25"/>
<circle cx="124.7" cy="619.0" r="2.95" fill="#fff" stroke="#1a1a1a" stroke-width="1.25"/>
<circle cx="74.6" cy="629.5" r="2.95" fill="#fff" stroke="#1a1a1a" stroke-width="1.25"/>
<circle cx="92.6" cy="628.9" r="2.95" fill="#fff" stroke="#1a1a1a" stroke-width="1.25"/>
<circle cx="69.5" cy="635.4" r="2.95" fill="#fff" stroke="#1a1a1a" stroke-width="1.25"/>
<circle cx="71.5" cy="637.2" r="2.95" fill="#fff" stroke="#1a1a1a" stroke-width="1.25"/>
<circle cx="78.5" cy="637.7" r="2.95" fill="#fff" stroke="#1a1a1a" stroke-width="1.25"/>
<circle cx="107.7" cy="641.5" r="2.95" fill="#fff" stroke="#1a1a1a" stroke-width="1.25"/>
<circle cx="98.2" cy="643.1" r="2.95" fill="#fff" stroke="#1a1a1a" stroke-width="1.25"/>
<circle cx="75.4" cy="646.2" r="2.95" fill="#fff" stroke="#1a1a1a" stroke-width="1.25"/>
<circle cx="73.5" cy="647.2" r="2.95" fill="#fff" stroke="#1a1a1a" stroke-width="1.25"/>
<circle cx="84.3" cy="650.0" r="2.95" fill="#fff" stroke="#1a1a1a" stroke-width="1.25"/>
<circle cx="95.4" cy="653.1" r="2.95" fill="#fff" stroke="#1a1a1a" stroke-width="1.25"/>
<circle cx="129.5" cy="649.2" r="2.95" fill="#fff" stroke="#1a1a1a" stroke-width="1.25"/>
<circle cx="101.2" cy="673.4" r="2.95" fill="#fff" stroke="#1a1a1a" stroke-width="1.25"/>
<circle cx="146.9" cy="619.1" r="2.95" fill="#fff" stroke="#1a1a1a" stroke-width="1.25"/>
<circle cx="178.4" cy="609.4" r="2.95" fill="#fff" stroke="#1a1a1a" stroke-width="1.25"/>
<circle cx="183.8" cy="594.9" r="2.95" fill="#fff" stroke="#1a1a1a" stroke-width="1.25"/>
<circle cx="70.3" cy="636.2" r="2.95" fill="#fff" stroke="#1a1a1a" stroke-width="1.25"/>
<circle cx="74.4" cy="646.9" r="2.95" fill="#fff" stroke="#1a1a1a" stroke-width="1.25"/>
<line x1="70" y1="617.7" x2="183.8" y2="622.9" stroke="#111" stroke-width="1.9" stroke-linecap="butt"/>
<text x="184.4" y="551" font-size="12" text-anchor="start" font-weight="normal" font-style="normal" stroke="#111" stroke-width="0.45" textLength="34.6" lengthAdjust="spacingAndGlyphs">r = 0.0</text>
<text x="184.4" y="567.1" font-size="12" text-anchor="start" font-weight="normal" font-style="normal" stroke="#111" stroke-width="0.45" textLength="43.4" lengthAdjust="spacingAndGlyphs">p = 0.78</text>
<line x1="338.8" y1="535.6" x2="338.8" y2="682.95" stroke="#111" stroke-width="1.9" stroke-linecap="butt"/>
<line x1="334.8" y1="682" x2="514.5999999999999" y2="682" stroke="#111" stroke-width="1.9" stroke-linecap="butt"/>
<line x1="334.8" y1="682.0" x2="338.8" y2="682.0" stroke="#111" stroke-width="1.6" stroke-linecap="butt"/>
<text x="334.6" y="685.8" font-size="10.8" text-anchor="end" font-weight="normal" font-style="normal" stroke="#111" stroke-width="0.45">0</text>
<line x1="334.8" y1="657.7333333333333" x2="338.8" y2="657.7333333333333" stroke="#111" stroke-width="1.6" stroke-linecap="butt"/>
<text x="334.6" y="661.5333333333333" font-size="10.8" text-anchor="end" font-weight="normal" font-style="normal" stroke="#111" stroke-width="0.45">25</text>
<line x1="334.8" y1="633.4666666666667" x2="338.8" y2="633.4666666666667" stroke="#111" stroke-width="1.6" stroke-linecap="butt"/>
<text x="334.6" y="637.2666666666667" font-size="10.8" text-anchor="end" font-weight="normal" font-style="normal" stroke="#111" stroke-width="0.45">50</text>
<line x1="334.8" y1="609.2" x2="338.8" y2="609.2" stroke="#111" stroke-width="1.6" stroke-linecap="butt"/>
<text x="334.6" y="613.0" font-size="10.8" text-anchor="end" font-weight="normal" font-style="normal" stroke="#111" stroke-width="0.45">75</text>
<line x1="334.8" y1="584.9333333333333" x2="338.8" y2="584.9333333333333" stroke="#111" stroke-width="1.6" stroke-linecap="butt"/>
<text x="334.6" y="588.7333333333332" font-size="10.8" text-anchor="end" font-weight="normal" font-style="normal" stroke="#111" stroke-width="0.45">100</text>
<line x1="334.8" y1="560.6666666666666" x2="338.8" y2="560.6666666666666" stroke="#111" stroke-width="1.6" stroke-linecap="butt"/>
<text x="334.6" y="564.4666666666666" font-size="10.8" text-anchor="end" font-weight="normal" font-style="normal" stroke="#111" stroke-width="0.45">125</text>
<line x1="334.8" y1="536.4" x2="338.8" y2="536.4" stroke="#111" stroke-width="1.6" stroke-linecap="butt"/>
<text x="334.6" y="540.1999999999999" font-size="10.8" text-anchor="end" font-weight="normal" font-style="normal" stroke="#111" stroke-width="0.45">150</text>
<line x1="338.8" y1="682" x2="338.8" y2="686" stroke="#111" stroke-width="1.6" stroke-linecap="butt"/>
<text x="338.8" y="696.2" font-size="10.8" text-anchor="middle" font-weight="normal" font-style="normal" stroke="#111" stroke-width="0.45">0</text>
<line x1="373.8" y1="682" x2="373.8" y2="686" stroke="#111" stroke-width="1.6" stroke-linecap="butt"/>
<text x="373.8" y="696.2" font-size="10.8" text-anchor="middle" font-weight="normal" font-style="normal" stroke="#111" stroke-width="0.45">5</text>
<line x1="408.8" y1="682" x2="408.8" y2="686" stroke="#111" stroke-width="1.6" stroke-linecap="butt"/>
<text x="408.8" y="696.2" font-size="10.8" text-anchor="middle" font-weight="normal" font-style="normal" stroke="#111" stroke-width="0.45">10</text>
<line x1="443.8" y1="682" x2="443.8" y2="686" stroke="#111" stroke-width="1.6" stroke-linecap="butt"/>
<text x="443.8" y="696.2" font-size="10.8" text-anchor="middle" font-weight="normal" font-style="normal" stroke="#111" stroke-width="0.45">15</text>
<line x1="478.8" y1="682" x2="478.8" y2="686" stroke="#111" stroke-width="1.6" stroke-linecap="butt"/>
<text x="478.8" y="696.2" font-size="10.8" text-anchor="middle" font-weight="normal" font-style="normal" stroke="#111" stroke-width="0.45">20</text>
<line x1="513.8" y1="682" x2="513.8" y2="686" stroke="#111" stroke-width="1.6" stroke-linecap="butt"/>
<text x="513.8" y="696.2" font-size="10.8" text-anchor="middle" font-weight="normal" font-style="normal" stroke="#111" stroke-width="0.45">25</text>
<text x="309" y="657.9" font-size="10" text-anchor="start" font-weight="normal" font-style="normal" stroke="#111" stroke-width="0.45" transform="rotate(-90 309 657.9)" textLength="101.8" lengthAdjust="spacingAndGlyphs">MEF25 % of predicted</text>
<text x="365" y="713.9" font-size="10" text-anchor="start" font-weight="normal" font-style="normal" stroke="#111" stroke-width="0.45" textLength="122.4" lengthAdjust="spacingAndGlyphs">MDSC in % of Total PBMC</text>
<circle cx="375.8" cy="604.3" r="3.15" fill="#868686" stroke="#1a1a1a" stroke-width="1.25"/>
<circle cx="342.6" cy="614.9" r="3.15" fill="#868686" stroke="#1a1a1a" stroke-width="1.25"/>
<circle cx="349.2" cy="618.2" r="3.15" fill="#868686" stroke="#1a1a1a" stroke-width="1.25"/>
<circle cx="358.8" cy="616.2" r="3.15" fill="#868686" stroke="#1a1a1a" stroke-width="1.25"/>
<circle cx="349.7" cy="631.2" r="3.15" fill="#868686" stroke="#1a1a1a" stroke-width="1.25"/>
<circle cx="346.5" cy="635.4" r="3.15" fill="#868686" stroke="#1a1a1a" stroke-width="1.25"/>
<circle cx="352.6" cy="646.2" r="3.15" fill="#868686" stroke="#1a1a1a" stroke-width="1.25"/>
<circle cx="370.0" cy="641.2" r="3.15" fill="#868686" stroke="#1a1a1a" stroke-width="1.25"/>
<circle cx="376.6" cy="643.4" r="3.15" fill="#868686" stroke="#1a1a1a" stroke-width="1.25"/>
<circle cx="345.7" cy="650.0" r="3.15" fill="#868686" stroke="#1a1a1a" stroke-width="1.25"/>
<circle cx="340.8" cy="656.9" r="3.15" fill="#868686" stroke="#1a1a1a" stroke-width="1.25"/>
<circle cx="346.5" cy="658.5" r="3.15" fill="#868686" stroke="#1a1a1a" stroke-width="1.25"/>
<circle cx="342.8" cy="664.6" r="3.15" fill="#868686" stroke="#1a1a1a" stroke-width="1.25"/>
<circle cx="374.2" cy="659.7" r="3.15" fill="#868686" stroke="#1a1a1a" stroke-width="1.25"/>
<circle cx="351.5" cy="670.3" r="3.15" fill="#868686" stroke="#1a1a1a" stroke-width="1.25"/>
<circle cx="351.2" cy="674.3" r="3.15" fill="#868686" stroke="#1a1a1a" stroke-width="1.25"/>
<circle cx="341.5" cy="674.3" r="3.15" fill="#868686" stroke="#1a1a1a" stroke-width="1.25"/>
<circle cx="364.2" cy="670.3" r="3.15" fill="#868686" stroke="#1a1a1a" stroke-width="1.25"/>
<circle cx="371.5" cy="670.3" r="3.15" fill="#868686" stroke="#1a1a1a" stroke-width="1.25"/>
<circle cx="416.6" cy="568.5" r="3.15" fill="#868686" stroke="#1a1a1a" stroke-width="1.25"/>
<circle cx="411.1" cy="634.3" r="3.15" fill="#868686" stroke="#1a1a1a" stroke-width="1.25"/>
<circle cx="435.3" cy="642.4" r="3.15" fill="#868686" stroke="#1a1a1a" stroke-width="1.25"/>
<circle cx="478.0" cy="621.8" r="3.15" fill="#868686" stroke="#1a1a1a" stroke-width="1.25"/>
<circle cx="481.5" cy="609.2" r="3.15" fill="#868686" stroke="#1a1a1a" stroke-width="1.25"/>
<circle cx="485.4" cy="616.8" r="3.15" fill="#868686" stroke="#1a1a1a" stroke-width="1.25"/>
<line x1="340.8" y1="650.3" x2="481.9" y2="610.8" stroke="#111" stroke-width="1.9" stroke-linecap="butt"/>
<text x="455.4" y="560.7" font-size="12" text-anchor="start" font-weight="normal" font-style="normal" stroke="#111" stroke-width="0.45" textLength="41.3" lengthAdjust="spacingAndGlyphs">r = 0.48</text>
<text x="455.4" y="577.3" font-size="12" text-anchor="start" font-weight="normal" font-style="normal" stroke="#111" stroke-width="0.45" textLength="50.5" lengthAdjust="spacingAndGlyphs">p = 0.015</text>
</svg>
</body></html>
